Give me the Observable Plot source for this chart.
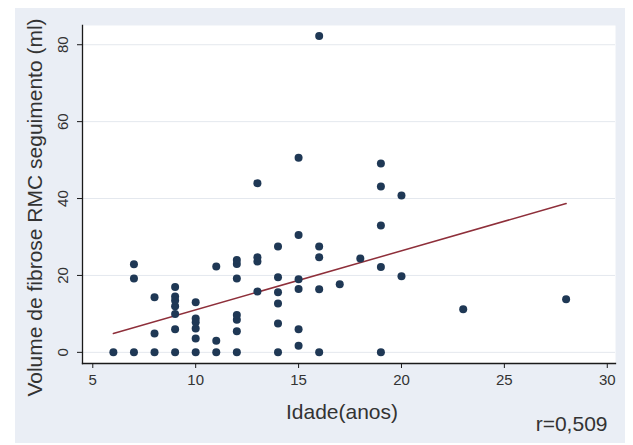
<!DOCTYPE html>
<html>
<head>
<meta charset="utf-8">
<script src="https://cdn.jsdelivr.net/npm/d3@7"></script>
<script src="https://cdn.jsdelivr.net/npm/@observablehq/plot@0.6"></script>
<style>
  html, body { margin: 0; padding: 0; background: #ffffff; }
</style>
</head>
<body>
<div id="chart"></div>
<script>
// Age (years) and follow-up CMR fibrosis volume (ml)
const ages = [
  6,
  7, 7, 7,
  8, 8, 8,
  9, 9, 9, 9, 9, 9, 9,
  10, 10, 10, 10, 10, 10,
  11, 11, 11,
  12, 12, 12, 12, 12, 12, 12,
  13, 13, 13, 13,
  14, 14, 14, 14, 14, 14,
  15, 15, 15, 15, 15, 15,
  16, 16, 16, 16, 16,
  17,
  18,
  19, 19, 19, 19, 19,
  20, 20,
  23,
  28
];
const volumes = [
  0,
  0, 19.2, 22.9,
  0, 4.9, 14.3,
  0, 6, 10, 12, 13.5, 14.5, 17,
  0, 3.6, 6.2, 7.8, 8.8, 13,
  0, 3, 22.3,
  0, 5.5, 8.5, 9.7, 19.2, 23, 24,
  15.8, 23.6, 24.7, 44,
  0, 7.5, 12.7, 15.6, 19.5, 27.5,
  1.7, 6, 16.5, 19, 30.5, 50.6,
  0, 16.4, 24.7, 27.5, 82.3,
  17.7,
  24.4,
  0, 22.2, 33, 43.1, 49.1,
  19.8, 40.8,
  11.2,
  13.8
];
// fitted line end points
const fitAges = [6, 28];
const fitVolumes = [4.9, 38.7];

const xTicks = [5, 10, 15, 20, 25, 30];
const yTicks = [0, 20, 40, 60, 80];
const xTitle = "Idade(anos)";
const yTitle = "Volume de fibrose RMC seguimento (ml)";
const note = "r=0,509";

const points = ages.map((a, i) => ({age: a, vol: volumes[i]}));
const fit = fitAges.map((a, i) => ({age: a, vol: fitVolumes[i]}));

const chart = Plot.plot({
  width: 633,
  height: 445,
  marginLeft: 82,
  marginRight: 18,
  marginTop: 25,
  marginBottom: 82,
  x: {domain: [4.5, 30.4]},
  y: {domain: [-2.9, 85]},
  style: {fontFamily: "'Liberation Sans', Arial, sans-serif", color: "#333"},
  marks: [
    Plot.frame({fill: "#ffffff", stroke: null}),
    Plot.gridY(yTicks, {stroke: "#e4e8ee", strokeOpacity: 1, strokeWidth: 1}),
    Plot.frame({anchor: "left", stroke: "#1a1a1a", strokeWidth: 1.3}),
    Plot.frame({anchor: "bottom", stroke: "#1a1a1a", strokeWidth: 1.3}),
    Plot.axisX(xTicks, {tickSize: 5, tickPadding: 6, fontSize: 15, label: null, stroke: "#1a1a1a", fill: "#333"}),
    Plot.axisY(yTicks, {tickSize: 5, tickPadding: 10, fontSize: 15, tickRotate: -90, label: null, stroke: "#1a1a1a", fill: "#333"}),
    Plot.line(fit, {x: "age", y: "vol", stroke: "#8e2f3a", strokeWidth: 1.5}),
    Plot.dot(points, {x: "age", y: "vol", r: 4, fill: "#1f3855", stroke: null}),
    Plot.text([xTitle], {frameAnchor: "bottom", textAnchor: "middle", dx: -7, dy: 55, fontSize: 21, fill: "#333"}),
    Plot.text([yTitle], {frameAnchor: "left", textAnchor: "middle", lineAnchor: "middle", rotate: -90, dx: -47, dy: 13, fontSize: 21, fill: "#333"}),
    Plot.text([note], {frameAnchor: "bottom-right", textAnchor: "end", dx: -8, dy: 67, fontSize: 21, fill: "#333"})
  ]
});
chart.style.background = "#eaeef5";
chart.style.boxShadow = "inset 15px 8px 0 #ffffff, inset -8px -2px 0 #ffffff";
document.getElementById("chart").appendChild(chart);
</script>
</body>
</html>
